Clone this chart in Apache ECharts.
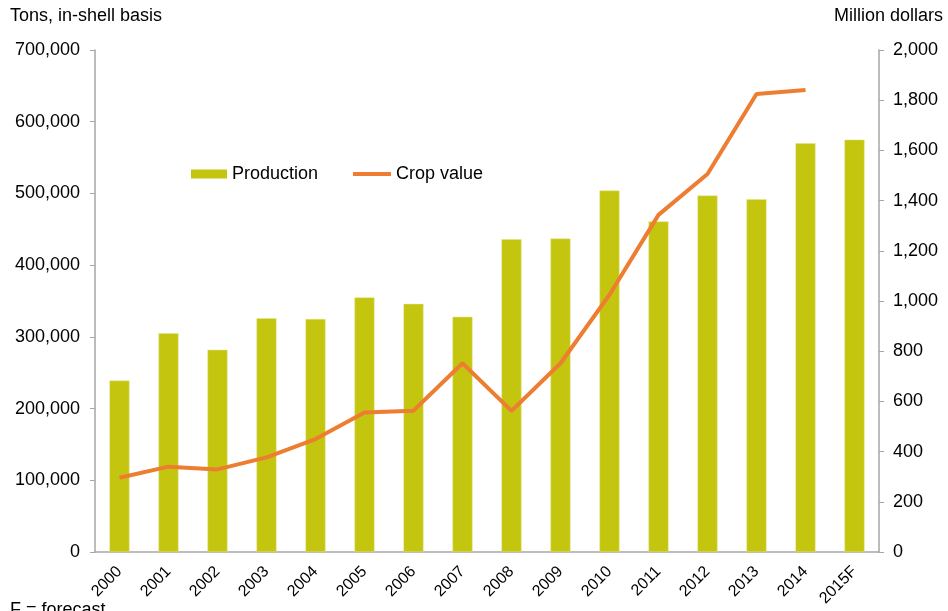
<!DOCTYPE html>
<html>
<head>
<meta charset="utf-8">
<script src="https://cdn.jsdelivr.net/npm/echarts@6/dist/echarts.min.js"></script>
<style>
  html, body { margin: 0; padding: 0; background: #fff; }
  #main { width: 948px; height: 611px; }
</style>
</head>
<body>
<div id="main"></div>
<script>
// data
var years = ['2000', '2001', '2002', '2003', '2004', '2005', '2006', '2007',
             '2008', '2009', '2010', '2011', '2012', '2013', '2014', '2015F'];
var production = [239000, 305000, 282000, 326000, 325000, 355000, 346000, 328000,
                  436000, 437000, 504000, 461000, 497000, 492000, 570000, 575000];
var cropValue = [296, 340, 329, 377, 450, 556, 563, 752,
                 562, 752, 1025, 1343, 1506, 1825, 1841, null];

var font = 'Liberation Sans, Arial, sans-serif';
var axisGray = '#a6a6a6';
var fmt = function (v) { return v.toLocaleString('en-US'); };

var myChart = echarts.init(document.getElementById('main'));
myChart.setOption({
    backgroundColor: '#fff',
    textStyle: { fontFamily: font },
    grid: { left: 95, right: 69, top: 50, bottom: 59, containLabel: false },
    // two legends so each key gets its own shape
    legend: [
        {
            left: 191, top: 165, padding: 0,
            itemWidth: 36, itemHeight: 9,
            itemStyle: { borderWidth: 0 },
            textStyle: { fontSize: 18, color: '#000', fontFamily: font },
            data: [{ name: 'Production', icon: 'rect' }]
        },
        {
            left: 353, top: 165, padding: 0,
            itemWidth: 38, itemHeight: 4,
            itemStyle: { borderWidth: 0 },
            textStyle: { fontSize: 18, color: '#000', fontFamily: font },
            data: [{ name: 'Crop value', icon: 'rect' }]
        }
    ],
    graphic: [
        { type: 'text', left: 10, top: 7, style: { text: 'Tons, in-shell basis', font: '18px ' + font, fill: '#000' } },
        { type: 'text', right: 5, top: 7, style: { text: 'Million dollars', font: '18px ' + font, fill: '#000' } },
        { type: 'text', left: 10, top: 601, style: { text: 'F = forecast', font: '18px ' + font, fill: '#000' } }
    ],
    xAxis: {
        type: 'category',
        data: years,
        axisLine: { lineStyle: { color: axisGray, width: 1.5 } },
        axisTick: { show: false },
        axisLabel: { rotate: 45, fontSize: 16, color: '#000', margin: 17, interval: 0 }
    },
    yAxis: [
        {
            type: 'value', min: 0, max: 700000, interval: 100000,
            axisLine: { show: true, lineStyle: { color: axisGray, width: 1.5 } },
            axisTick: { show: true, length: 5, lineStyle: { color: axisGray } },
            splitLine: { show: false },
            axisLabel: { fontSize: 18, color: '#000', margin: 15, formatter: fmt }
        },
        {
            type: 'value', min: 0, max: 2000, interval: 200, position: 'right',
            axisLine: { show: true, lineStyle: { color: axisGray, width: 1.5 } },
            axisTick: { show: true, length: 5, lineStyle: { color: axisGray } },
            splitLine: { show: false },
            axisLabel: { fontSize: 18, color: '#000', margin: 14, formatter: fmt }
        }
    ],
    series: [
        {
            name: 'Production',
            type: 'bar',
            yAxisIndex: 0,
            data: production,
            barWidth: 20,
            itemStyle: { color: '#c4c50f', borderColor: '#e4e58a', borderWidth: 0.5 }
        },
        {
            name: 'Crop value',
            type: 'line',
            yAxisIndex: 1,
            data: cropValue,
            symbol: 'none',
            lineStyle: { color: '#ed7d31', width: 4 },
            itemStyle: { color: '#ed7d31' }
        }
    ]
});
</script>
</body>
</html>
